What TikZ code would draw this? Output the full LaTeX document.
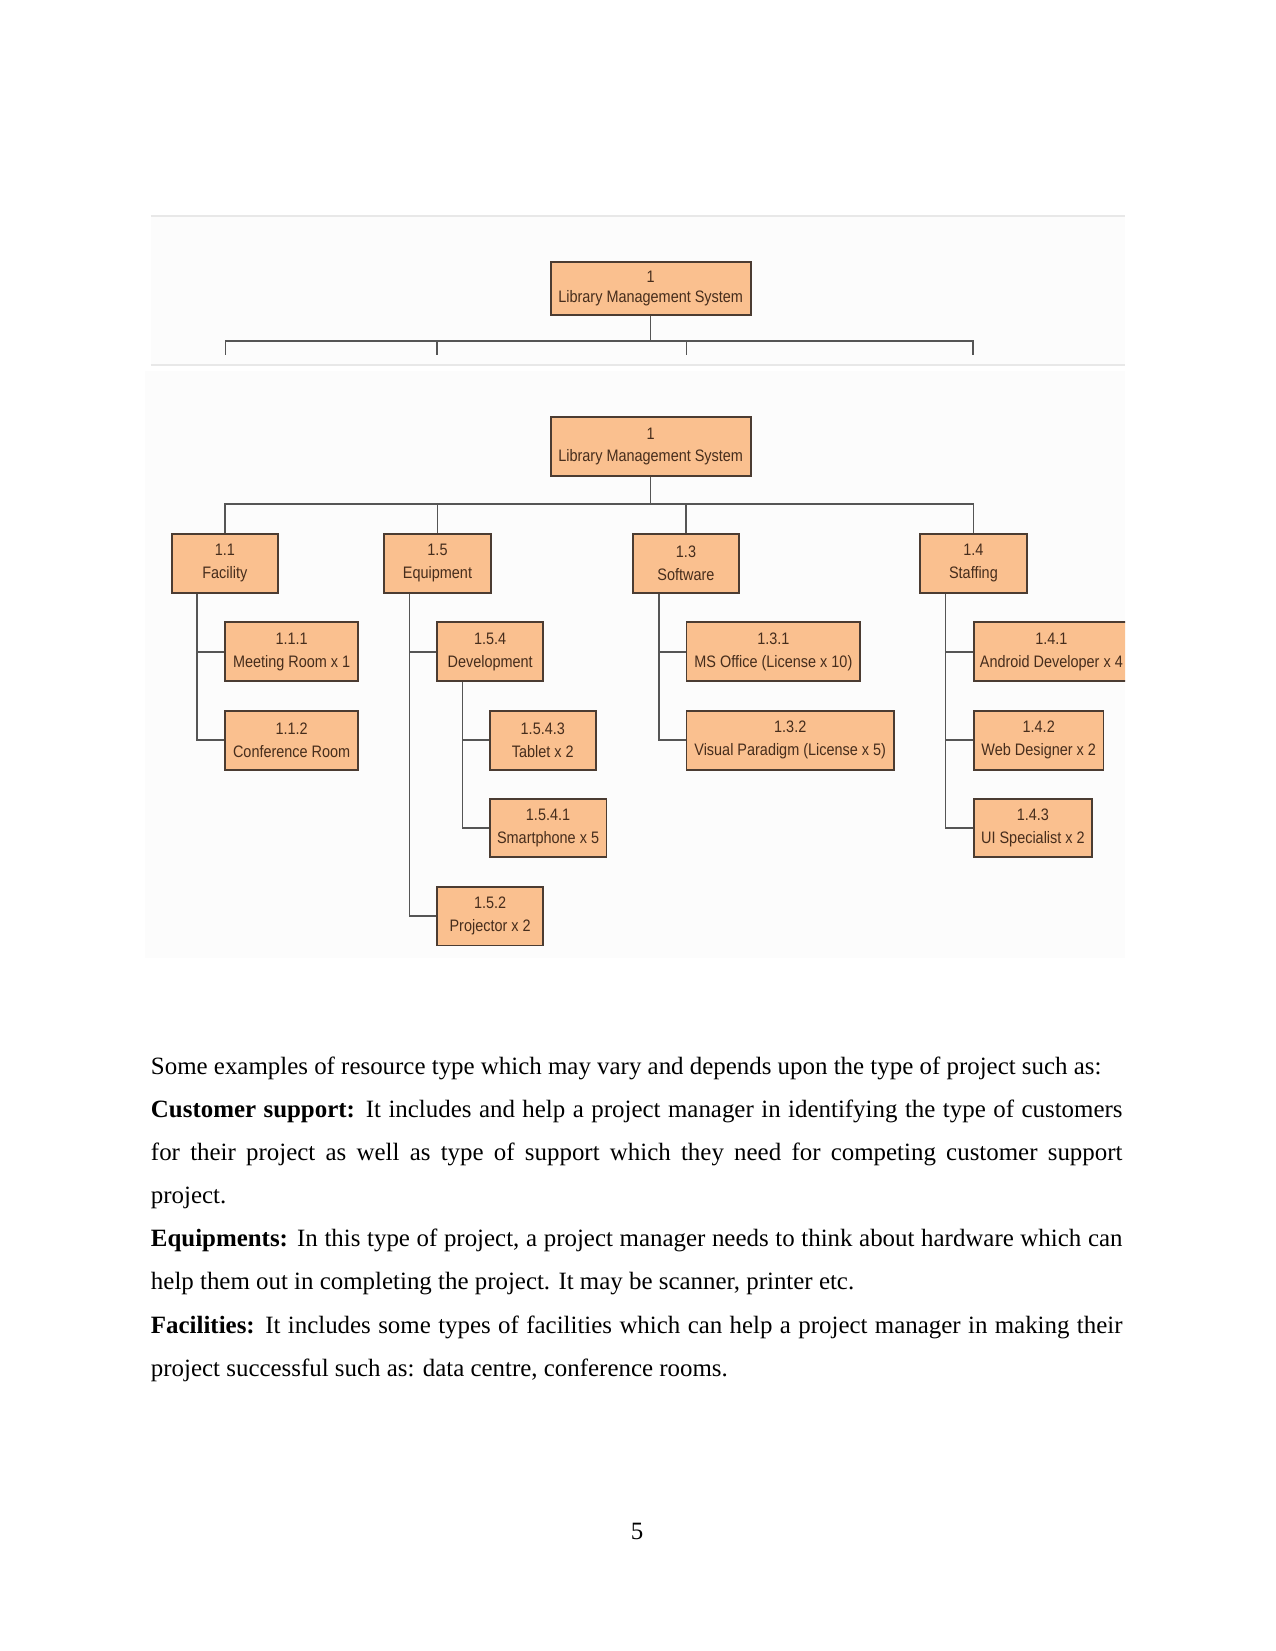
\documentclass[tikz,border=0pt]{standalone}
\usepackage{fontspec}
\setmainfont{Liberation Serif}
\newfontfamily\boxfont[FakeStretch=0.87]{Liberation Sans}
\usetikzlibrary{calc}
\definecolor{boxfill}{RGB}{250,192,143}
\definecolor{boxdraw}{RGB}{75,60,50}
\definecolor{boxtext}{RGB}{70,45,28}
\definecolor{conncol}{RGB}{85,85,85}
\definecolor{stripline}{RGB}{232,232,232}
\definecolor{faintbg}{RGB}{252,252,252}
\tikzset{
  wbs/.style={draw=boxdraw, fill=boxfill, line width=0.9pt, inner sep=0pt, align=center,
    font=\boxfont\fontsize{8pt}{11pt}\selectfont, text=boxtext},
  wbstop/.style={wbs, font=\boxfont\fontsize{8pt}{9.7pt}\selectfont},
  conn/.style={draw=conncol, line width=0.75pt},
  bodytext/.style={inner sep=0pt, text width=468pt, align=justify,
    font=\fontsize{12pt}{20.8pt}\selectfont},
}
% \wbsbox[style]{name}{x1}{y1}{x2}{y2}{text}
\newcommand\wbsbox[7][wbs]{%
  \node[#1, minimum width={(#5-#3)*0.50723pt}, minimum height={(#6-#4)*0.50723pt}]
    (#2) at ({(#3+#5)/2},{(#4+#6)/2}) {#7};}
\begin{document}
\begin{tikzpicture}[x=0.50723pt,y=-0.50723pt]
\useasboundingbox[fill=white] (0,0) rectangle (1211,1568);
% ---------- top strip ----------
\fill[faintbg] (143,206) rectangle (1068,346);
\draw[stripline, line width=1pt] (143,205) -- (1068,205);
\draw[stripline, line width=1pt] (143,347) -- (1068,347);
\wbsbox[wbstop]{topRoot}{523}{249}{713}{299}{1\\Library Management System}
\coordinate (tA) at (214,337);
\coordinate (tB) at (415,337);
\coordinate (tC) at (652,337);
\coordinate (tD) at (924,337);
\draw[conn] (topRoot.south) -- ++(0,24) coordinate (topBus);
\draw[conn] (tA) |- (topBus) -| (tD);
\draw[conn] (tB) |- (topBus);
\draw[conn] (tC) |- (topBus);
% ---------- main WBS ----------
\fill[faintbg] (138,352) rectangle (1068,910);
\wbsbox{root}{523}{396}{713}{452}{1\\Library Management System}
\wbsbox{n11}{163}{507}{264}{563}{1.1\\Facility}
\wbsbox{n15}{365}{507}{466}{563}{1.5\\Equipment}
\wbsbox{n13}{601}{507}{702}{563}{1.3\\Software}
\wbsbox{n14}{874}{507}{975}{563}{1.4\\Staffing}
\wbsbox{n111}{214}{591}{340}{647}{1.1.1\\Meeting Room x 1}
\wbsbox{n112}{214}{675}{340}{731}{1.1.2\\Conference Room}
\wbsbox{n154}{415}{591}{516}{647}{1.5.4\\Development}
\wbsbox{n1543}{465}{675}{566}{731}{1.5.4.3\\Tablet x 2}
\wbsbox{n1541}{465}{759}{576}{814}{1.5.4.1\\Smartphone x 5}
\wbsbox{n152}{415}{842}{516}{898}{1.5.2\\Projector x 2}
\wbsbox{n131}{652}{591}{817}{647}{1.3.1\\MS Office (License x 10)}
\wbsbox{n132}{652}{675}{849}{731}{1.3.2\\Visual Paradigm (License x 5)}
\begin{scope}
  \clip (900,580) rectangle (1068.5,660);
  \wbsbox{n141}{925}{591}{1072}{647}{1.4.1\\Android Developer x 4}
\end{scope}
\wbsbox{n142}{925}{675}{1048}{731}{1.4.2\\Web Designer x 2}
\wbsbox{n143}{925}{759}{1037}{814}{1.4.3\\UI Specialist x 2}
% connectors level 1-2
\draw[conn] (root.south) -- ++(0,26) coordinate (bus);
\draw[conn] (n11.north) |- (bus) -| (n14.north);
\draw[conn] (n15.north) |- (bus);
\draw[conn] (n13.north) |- (bus);
% connectors level 2-3
\draw[conn] ($(n11.south west)+(25,0)$) |- (n111.west);
\draw[conn] ($(n11.south west)+(25,0)$) |- (n112.west);
\draw[conn] ($(n15.south west)+(25,0)$) |- (n154.west);
\draw[conn] ($(n15.south west)+(25,0)$) |- (n152.west);
\draw[conn] ($(n154.south west)+(25,0)$) |- (n1543.west);
\draw[conn] ($(n154.south west)+(25,0)$) |- (n1541.west);
\draw[conn] ($(n13.south west)+(26,0)$) |- (n131.west);
\draw[conn] ($(n13.south west)+(26,0)$) |- (n132.west);
\draw[conn] ($(n14.south west)+(25,0)$) |- (n141.west);
\draw[conn] ($(n14.south west)+(25,0)$) |- (n142.west);
\draw[conn] ($(n14.south west)+(25,0)$) |- (n143.west);
% ---------- body text ----------
\node[bodytext, anchor=base west] (para) at (143,1020) {%
\setlength\parindent{0pt}\setlength\parskip{0pt}%
Some examples of resource type which may vary and depends upon the type of project such as:\par
\textbf{Customer support:} It includes and help a project manager in identifying the type of customers\linebreak
for their project as well as type of support which they need for competing customer support\linebreak
project.\par
\textbf{Equipments:} In this type of project, a project manager needs to think about hardware which can\linebreak
help them out in completing the project. It may be scanner, printer etc.\par
\textbf{Facilities:} It includes some types of facilities which can help a project manager in making their\linebreak
project successful such as: data centre, conference rooms.\par};
\node[font=\fontsize{12pt}{14pt}\selectfont, anchor=base, inner sep=0pt] (pnum) at (605,1462) {5};
\end{tikzpicture}
\end{document}
